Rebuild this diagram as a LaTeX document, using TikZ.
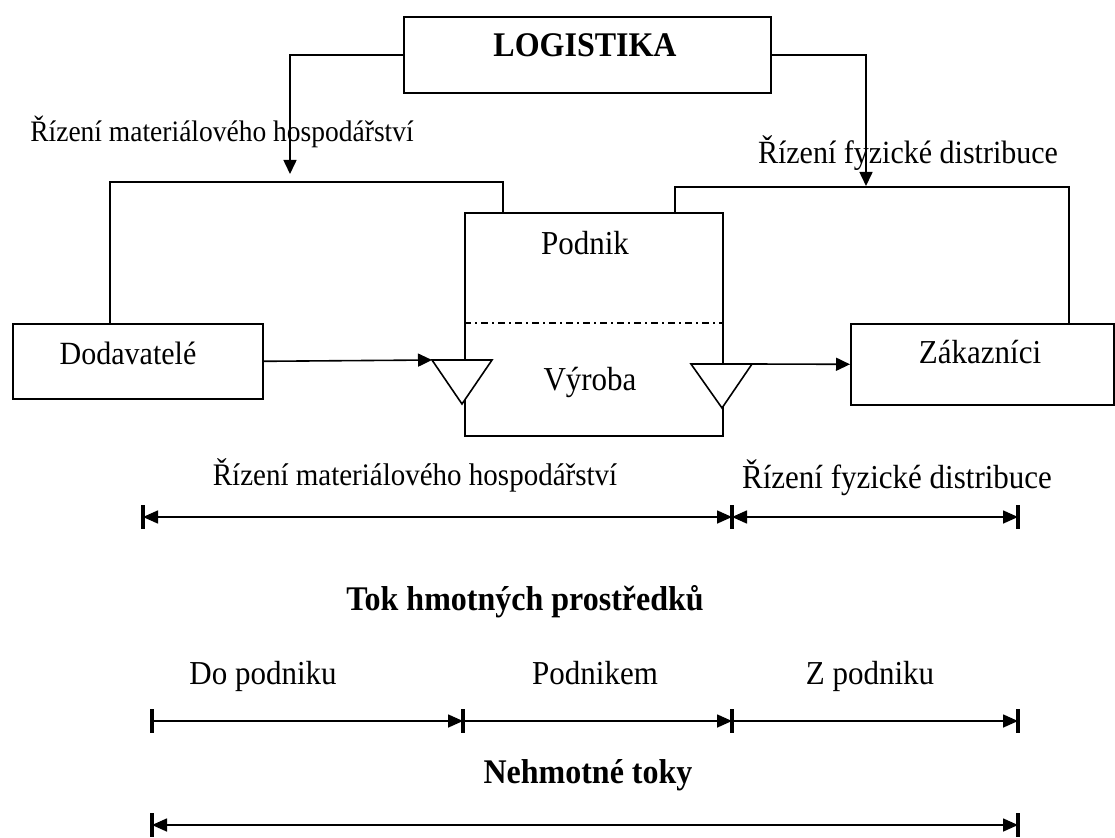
\documentclass[tikz,border=0pt]{standalone}
\usepackage{fontspec}
\setmainfont{Liberation Serif}
\usetikzlibrary{arrows.meta,positioning}
\newcommand{\tall}[1]{\scalebox{1}[1.08]{#1}}
\tikzstyle{box} = [rectangle, draw, line width=1.6pt, anchor=north west, inner sep=0pt]
\tikzstyle{txt} = [font=\fontsize{31}{37}\selectfont, inner sep=0pt, anchor=base]
\tikzstyle{boldtxt} = [font=\fontsize{32}{38}\selectfont\bfseries, inner sep=0pt, anchor=base]
\tikzstyle{conn} = [line width=1.6pt]
\tikzstyle{arrow} = [line width=1.6pt, -{Triangle[length=14pt,width=13pt]}]
\tikzstyle{dimboth} = [line width=1.6pt, {Triangle[length=15pt,width=13pt]}-{Triangle[length=15pt,width=13pt]}]
\tikzstyle{dimright} = [line width=1.6pt, -{Triangle[length=15pt,width=13pt]}]
\tikzstyle{endbar} = [line width=3.5pt]
\tikzstyle{valve} = [line width=1.6pt, fill=white]

\begin{document}
\begin{tikzpicture}[x=1pt, y=-1pt]
    \useasboundingbox (0,0) rectangle (1115,837);

    % Logistics box
    \node[box, minimum width=367pt, minimum height=76pt] (logistika) at (403,16) {};
    \node[boldtxt] (logistikatxt) at (585,57) {\tall{LOGISTIKA}};

    % Company, suppliers, customers
    \node[box, minimum width=250pt, minimum height=75pt] (dodavatele) at (12,323) {};
    \node[txt, font=\fontsize{30}{36}\selectfont] (dodavateletxt) at (128,364) {\tall{Dodavatelé}};
    \node[box, minimum width=258pt, minimum height=223pt] (podnik) at (464,212) {};
    \node[txt] (podniktxt) at (585,254) {\tall{Podnik}};
    \node[txt] (vyrobatxt) at (590,390) {\tall{Výroba}};
    \node[box, minimum width=263pt, minimum height=81pt] (zakaznici) at (850,323) {};
    \node[txt] (zakaznicitxt) at (980,363) {\tall{Zákazníci}};
    \draw[line width=1.2pt, dash pattern=on 7pt off 4pt on 2pt off 4pt]
        (podnik.west |- 0,323) -- (podnik.east |- 0,323);

    % Upper labels
    \node[txt, font=\fontsize{27.5}{33}\selectfont] (rizenimat) at (222,142) {\tall{Řízení materiálového hospodářství}};
    \node[txt, font=\fontsize{30}{36}\selectfont] (rizenifyz) at (908,164) {\tall{Řízení fyzické distribuce}};

    % Arrows from logistics
    \coordinate (matin) at (290,174);
    \coordinate (fyzin) at (866,186);
    \draw[arrow] (logistika.west) -| (matin);
    \draw[arrow] (logistika.east) -| (fyzin);

    % Frames
    \draw[conn] (dodavatele.north -| 110,0) |- (503,182) -- (podnik.north -| 503,0);
    \draw[conn] (podnik.north -| 675,0) |- (1069,187) -- (zakaznici.north -| 1069,0);

    % Stocks (triangles)
    \coordinate (inL) at (432,360);
    \coordinate (outR) at (752,364);
    \draw[valve] (inL) -- (492,360) -- (462,404) -- cycle;
    \draw[valve] (691,364) -- (outR) -- (722,408) -- cycle;
    \draw[arrow] (dodavatele.east) -- (inL);
    \draw[arrow] (outR) -- (zakaznici.west);

    % Material flow dimension
    \node[txt, font=\fontsize{29}{35}\selectfont] (rizenimat2) at (415,485) {\tall{Řízení materiálového hospodářství}};
    \node[txt] (rizenifyz2) at (897,488) {\tall{Řízení fyzické distribuce}};
    \coordinate (a1) at (143,517);
    \coordinate (a2) at (732,517);
    \coordinate (a3) at (1018,517);
    \foreach \p in {a1,a2,a3}
        \draw[endbar] (\p) ++(0,-12) -- ++(0,24);
    \draw[dimboth] (a1) -- (a2);
    \draw[dimboth] (a2) -- (a3);

    \node[boldtxt] (tok) at (525,610) {\tall{Tok hmotných prostředků}};

    % Into, through, out of company
    \node[txt] (dopodniku) at (263,684) {\tall{Do podniku}};
    \node[txt] (podnikem) at (595,684) {\tall{Podnikem}};
    \node[txt] (zpodniku) at (870,684) {\tall{Z podniku}};
    \coordinate (b1) at (152,721);
    \coordinate (b2) at (463,721);
    \coordinate (b3) at (732,721);
    \coordinate (b4) at (1018,721);
    \foreach \p in {b1,b2,b3,b4}
        \draw[endbar] (\p) ++(0,-12) -- ++(0,24);
    \draw[dimright] (b1) -- (b2);
    \draw[dimright] (b2) -- (b3);
    \draw[dimright] (b3) -- (b4);

    % Intangible flows
    \node[boldtxt] (nehmotne) at (588,783) {\tall{Nehmotné toky}};
    \coordinate (c1) at (152,825);
    \coordinate (c2) at (1018,825);
    \foreach \p in {c1,c2}
        \draw[endbar] (\p) ++(0,-12) -- ++(0,24);
    \draw[dimboth] (c1) -- (c2);
\end{tikzpicture}
\end{document}
